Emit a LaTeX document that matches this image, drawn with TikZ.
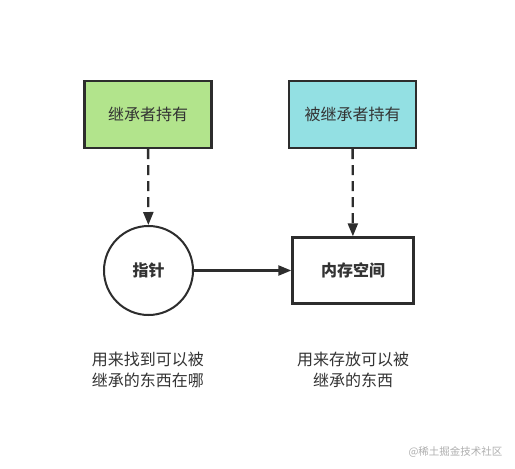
\documentclass[tikz,border=0pt]{standalone}
\usepackage{fontspec}
\setmainfont{Noto Sans CJK SC}
\usetikzlibrary{arrows.meta}
\definecolor{lgreen}{RGB}{178,228,140}
\definecolor{lcyan}{RGB}{147,224,227}
\definecolor{edge}{RGB}{45,45,45}
\definecolor{txt}{RGB}{51,51,51}
\tikzset{
  box/.style={draw=edge, line width=2.4pt, minimum width=127pt, minimum height=67pt, inner sep=0pt, text=txt, font=\fontsize{16}{18}\selectfont},
  circ/.style={draw=edge, line width=2pt, circle, minimum size=89pt, inner sep=0pt, text=txt, font=\fontsize{16}{18}\selectfont\bfseries},
  conn/.style={draw=edge, line width=2.3pt, -{Triangle[length=13pt,width=10pt]}},
  dconn/.style={conn, dash pattern=on 10pt off 6pt},
  note/.style={text=txt, align=center, font=\fontsize{16}{20.5}\selectfont},
}
\begin{document}
\begin{tikzpicture}[x=1pt,y=-1pt]
\useasboundingbox[fill=white] (0,0) rectangle (515,469);
\node[box, fill=lgreen] (own) at (148,114.5) {继承者持有};
\node[box, fill=lcyan] (owned) at (352.5,114.5) {被继承者持有};
\node[circ] (ptr) at (148.5,270.5) {指针};
\node[box, minimum width=121pt, minimum height=66pt, font=\fontsize{16}{18}\selectfont\bfseries] (mem) at (353,270.5) {内存空间};
\draw[dconn] (own) -- (ptr);
\draw[dconn] (owned) -- (mem);
\draw[conn] (ptr) -- (mem);
\node[note] (n1) at (148,370) {用来找到可以被\\继承的东西在哪};
\node[note] (n2) at (353,370) {用来存放可以被\\继承的东西};
\node[text={rgb,255:red,175;green,175;blue,175}, font=\fontsize{10.5}{12}\selectfont, anchor=east] (wm) at (506,452) {@稀土掘金技术社区};
\end{tikzpicture}
\end{document}
